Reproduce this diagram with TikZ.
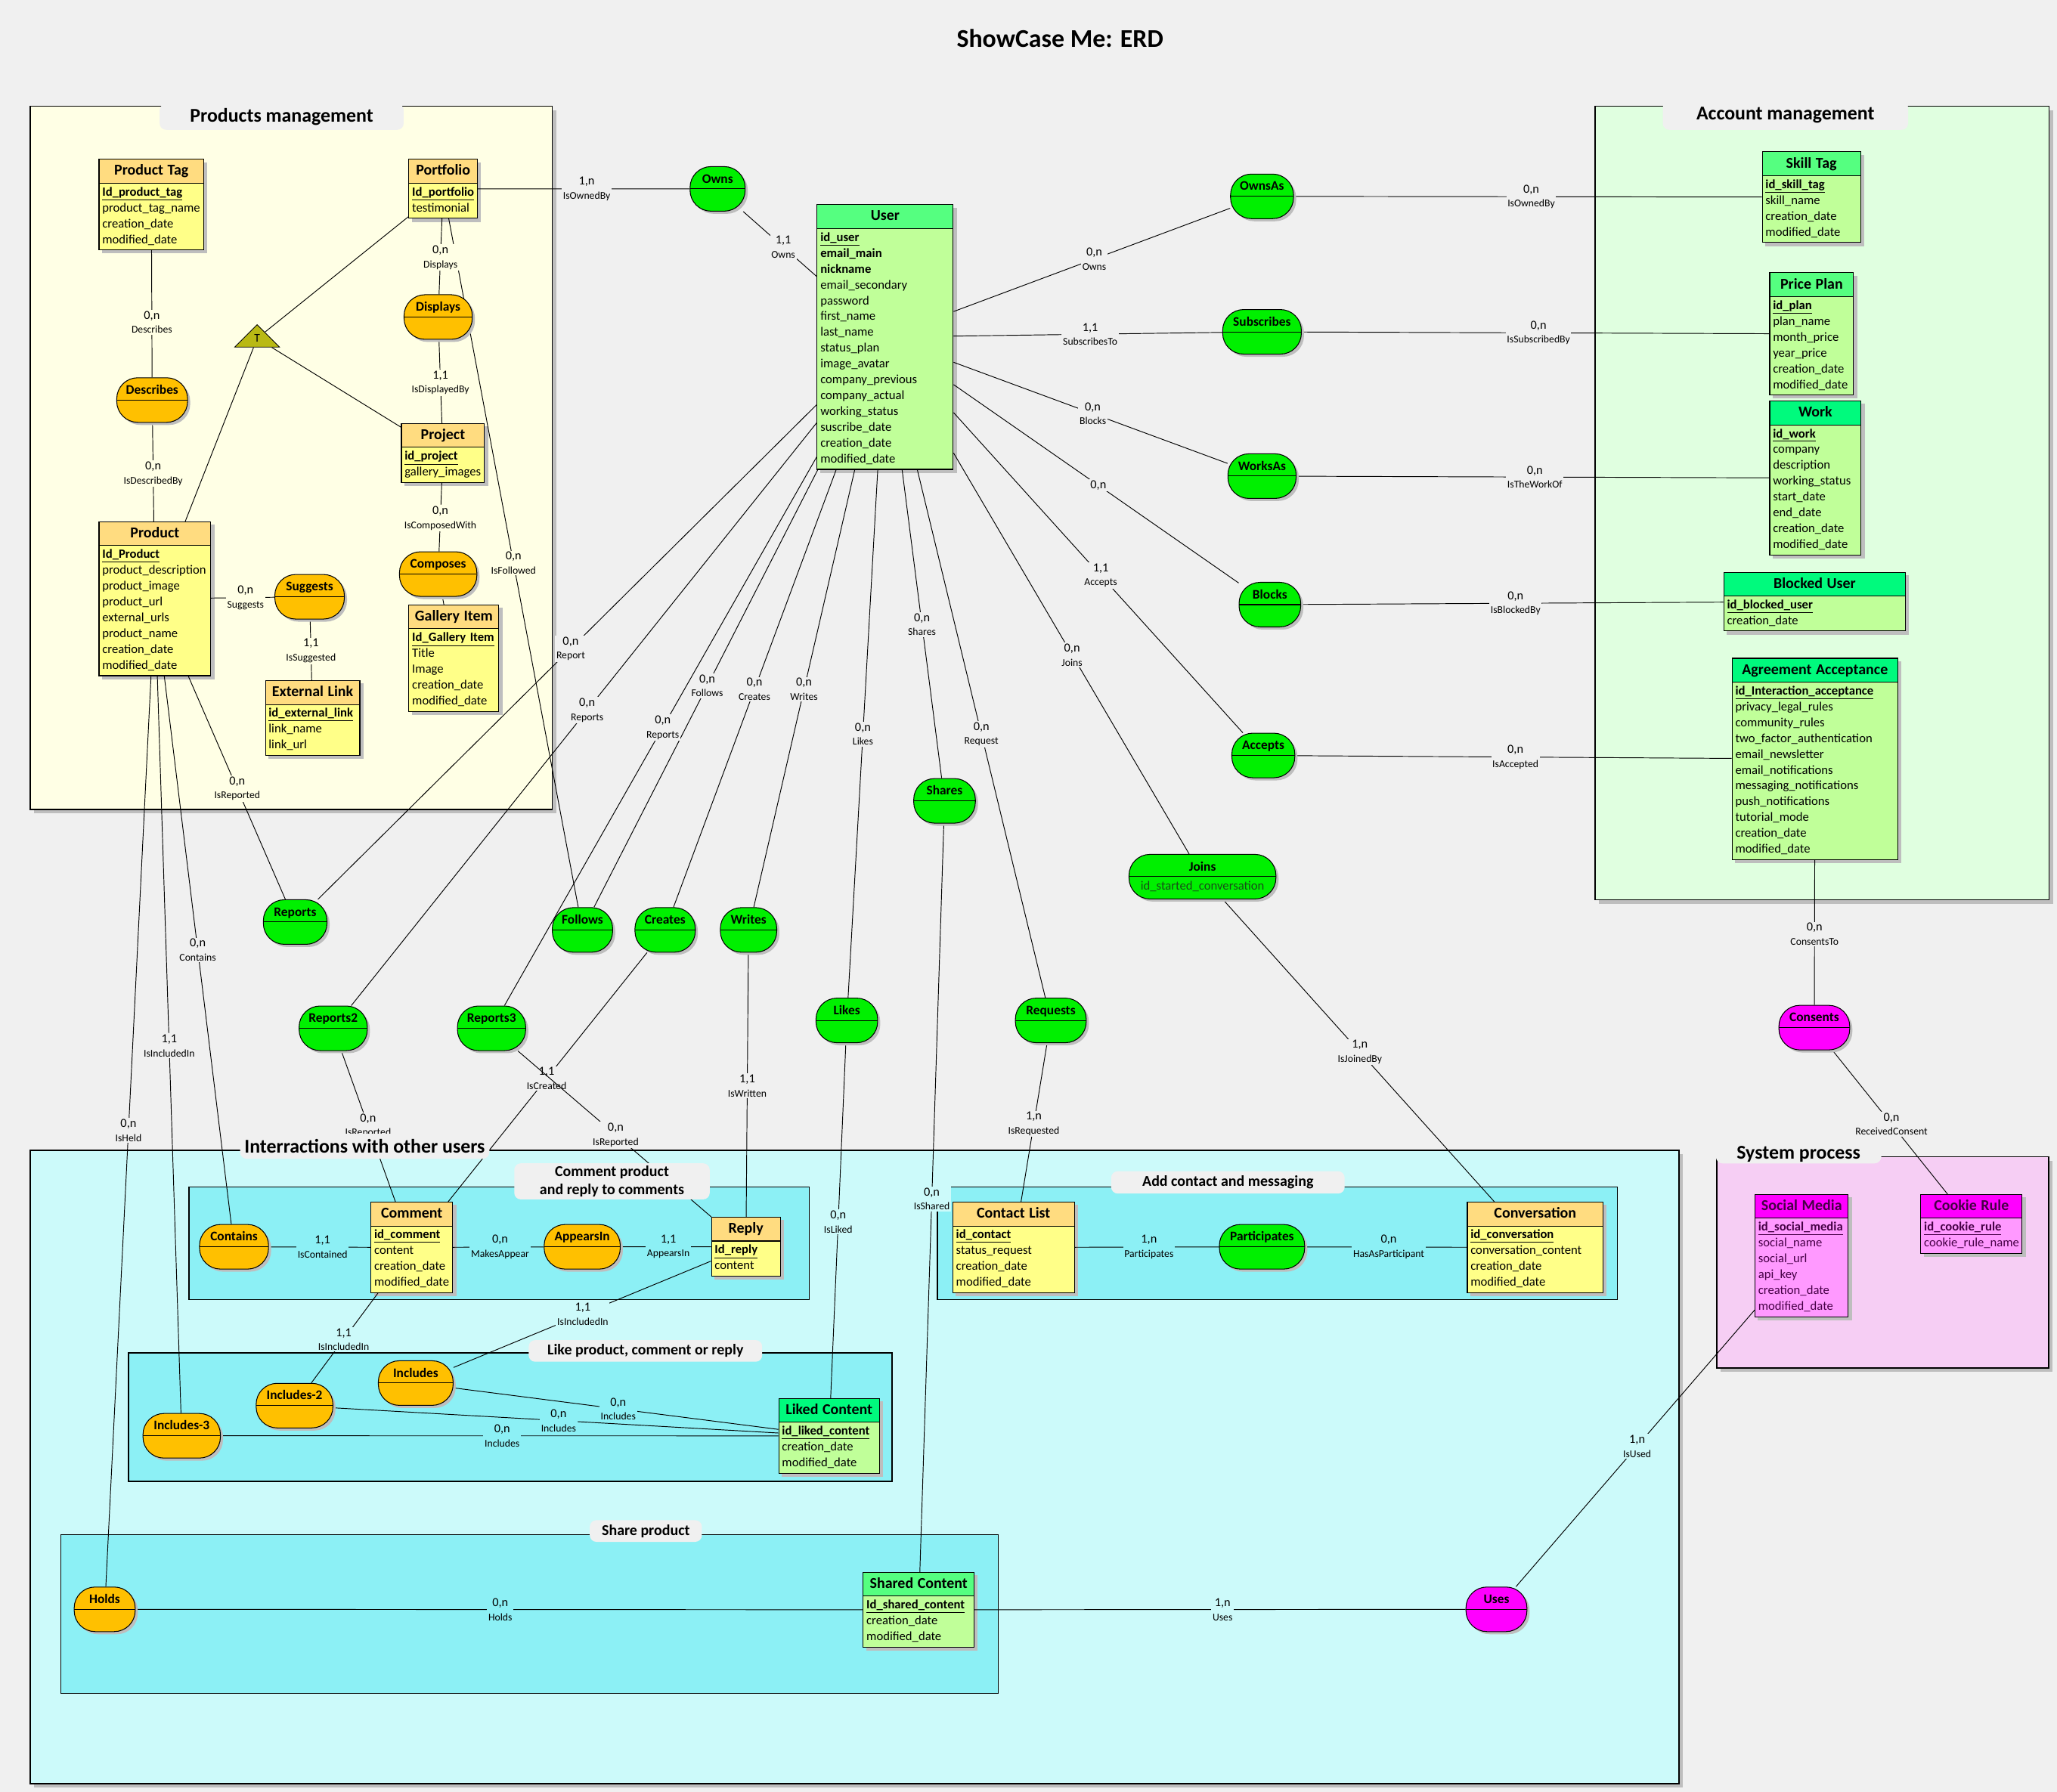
\documentclass[tikz,border=0pt]{standalone}
\usepackage{fontspec}
\setmainfont{Carlito}
\usetikzlibrary{shapes.multipart,shapes.geometric,shadows,calc}

\definecolor{bgc}{RGB}{240,240,240}
\definecolor{prodc}{RGB}{255,255,229}
\definecolor{accc}{RGB}{224,255,224}
\definecolor{intc}{RGB}{204,250,250}
\definecolor{subc}{RGB}{140,240,245}
\definecolor{sysc}{RGB}{246,206,244}
\definecolor{tabc}{RGB}{240,240,240}
\definecolor{yhd}{RGB}{255,220,128}
\definecolor{ybd}{RGB}{255,255,136}
\definecolor{ghd}{RGB}{85,255,128}
\definecolor{dhd}{RGB}{0,250,125}
\definecolor{gbd}{RGB}{192,255,153}
\definecolor{mhd}{RGB}{255,0,255}
\definecolor{mbd}{RGB}{255,153,255}
\definecolor{mtxt}{RGB}{70,0,70}
\definecolor{grelc}{RGB}{0,240,0}
\definecolor{orelc}{RGB}{255,192,0}
\definecolor{mrelc}{RGB}{255,0,255}
\definecolor{olc}{RGB}{185,185,20}
\definecolor{shc}{RGB}{190,190,190}
\definecolor{joint}{RGB}{25,75,25}

\pgfdeclarelayer{panels}
\pgfdeclarelayer{links}
\pgfsetlayers{panels,links,main}

\newcommand{\hfnt}{\fontsize{11.5}{15.5}\selectfont\bfseries}
\newcommand{\afnt}{\fontsize{9.6}{12.07}\selectfont\lineskiplimit=-6pt\relax}
\newcommand{\rfnt}{\fontsize{10}{12}\selectfont\bfseries}
\newcommand{\pk}[1]{\underline{\textbf{#1}}}
\newcommand{\ent}[3][0pt]{{\centering\hfnt\strut#2\strut\par}\nodepart{two}\afnt\strut#3\strut\par\vskip#1\relax}
\newcommand{\cd}[2]{{\fontsize{9.4}{10}\selectfont#1}\\#2}

\tikzset{
  shad/.style={drop shadow={shadow xshift=#1, shadow yshift=-#1, fill=shc, opacity=1}},
  entity/.style={rectangle split, rectangle split parts=2, draw, line width=.6pt,
    inner xsep=2.5pt, inner ysep=1pt, text width=#1, align=left, anchor=north west,
    font=\afnt},
  yent/.style={entity=#1, rectangle split part fill={yhd,ybd}},
  gent/.style={entity=#1, rectangle split part fill={ghd,gbd}},
  dent/.style={entity=#1, rectangle split part fill={dhd,gbd}},
  ment/.style={entity=#1, rectangle split part fill={mhd,mbd}, text=mtxt},
  rel/.style={rectangle, rounded corners=16pt, draw, line width=.6pt, minimum height=34pt,
    minimum width=#1, inner sep=0pt, font=\rfnt, text height=8pt, text depth=17pt,
    path picture={\draw[line width=.6pt] (path picture bounding box.west) -- (path picture bounding box.east);},
    shad=2pt},
  grel/.style={rel=#1, fill=grelc},
  orel/.style={rel=#1, fill=orelc},
  mrel/.style={rel=#1, fill=mrelc},
  tri/.style={isosceles triangle, shape border rotate=90, isosceles triangle stretches,
    minimum width=34pt, minimum height=17pt, inner sep=0pt, draw, line width=.5pt,
    fill=olc, font=\fontsize{9}{10}\selectfont},
  conn/.style={draw, line width=.55pt},
  card/.style={inner sep=1pt, align=center, font=\fontsize{7.9}{10.7}\selectfont},
  panel/.style={draw, line width=1pt, shad=3pt},
  subpanel/.style={draw, fill=subc, line width=.8pt},
  tab/.style={fill=tabc, rounded corners=5pt, inner sep=0pt, font=\fontsize{14.9}{17}\selectfont\bfseries},
  subtab/.style={tab, align=center, font=\fontsize{11.5}{13.8}\selectfont\bfseries}
}

\begin{document}
\begin{tikzpicture}[x=1pt, y=-1pt]
\useasboundingbox (0,0) rectangle (1568,1366);

% areas
\begin{pgfonlayer}{panels}
  \fill[bgc] (0,0) rectangle (1568,1366);
  \filldraw[panel, fill=prodc] (23,81) rectangle (421,617);
  \filldraw[panel, fill=accc] (1216,81) rectangle (1562,686);
  \filldraw[panel, fill=intc] (23,877) rectangle (1280,1360);
  \filldraw[panel, fill=sysc] (1308.5,882) rectangle (1561.7,1043);
  \filldraw[subpanel] (144,905) rectangle (617,991);
  \filldraw[subpanel] (714.6,905) rectangle (1233,991);
  \filldraw[subpanel] (98,1031.5) rectangle (680,1129.5);
  \filldraw[subpanel] (46.5,1170) rectangle (761,1291);
\end{pgfonlayer}

\node[font=\fontsize{19.5}{23}\selectfont\bfseries] (title) at (808,29) {ShowCase Me: ERD};

% area titles
\node[tab, minimum width=186pt, minimum height=20pt] (prodtab) at (214.7,89) {Products management};
\node[tab, minimum width=187pt, minimum height=22pt] (acctab) at (1361,88) {Account management};
\node[tab, minimum width=190pt, minimum height=19pt] (inttab) at (278,874) {Interractions with other users};
\node[tab, minimum width=126pt, minimum height=14pt] (systab) at (1371,880) {System process};
\node[subtab, minimum width=149pt, minimum height=27.5pt] (comtab) at (466.5,900.7) {Comment product\\and reply to comments};
\node[subtab, minimum width=178pt, minimum height=16.5pt] (liketab) at (492,1030) {Like product, comment or reply};
\node[subtab, minimum width=178pt, minimum height=17pt] (contab) at (936,901.5) {Add contact and messaging};
\node[subtab, minimum width=85.4pt, minimum height=16.5pt] (sharetab) at (492.3,1167.3) {Share product};

% entities
\node[yent=74.8pt] (ptag) at (75.2,121.2) {\ent[17pt]{Product Tag}{\pk{Id\_product\_tag}\\product\_tag\_name\\creation\_date\\modified\_date}};
\node[yent=47.2pt] (portfolio) at (311.4,121.2) {\ent{Portfolio}{\pk{Id\_portfolio}\\testimonial}};
\node[yent=58.3pt] (project) at (305.7,322.7) {\ent{Project}{\pk{id\_project}\\gallery\_images}};
\node[yent=80.1pt] (product) at (75.2,397.6) {\ent{Product}{\pk{Id\_Product}\\product\_description\\product\_image\\product\_url\\external\_urls\\product\_name\\creation\_date\\modified\_date}};
\node[yent=63.6pt] (gallery) at (311.4,461) {\ent{Gallery Item}{\pk{Id\_Gallery~Item}\\Title\\Image\\creation\_date\\modified\_date}};
\node[yent=67pt] (extlink) at (202,518.7) {\ent{External Link}{\pk{id\_external\_link}\\link\_name\\link\_url}};
\node[gent=98.7pt] (user) at (622.6,155.8) {\ent{User}{\pk{id\_user}\\\textbf{email\_main}\\\textbf{nickname}\\email\_secondary\\password\\first\_name\\last\_name\\status\_plan\\image\_avatar\\company\_previous\\company\_actual\\working\_status\\suscribe\_date\\creation\_date\\modified\_date}};
\node[gent=69.9pt] (skilltag) at (1343,115.5) {\ent{Skill Tag}{\pk{id\_skill\_tag}\\skill\_name\\creation\_date\\modified\_date}};
\node[gent=58.9pt] (priceplan) at (1348.7,207.7) {\ent{Price Plan}{\pk{id\_plan}\\plan\_name\\month\_price\\year\_price\\creation\_date\\modified\_date}};
\node[dent=64.6pt] (work) at (1348.7,305.5) {\ent{Work}{\pk{id\_work}\\company\\description\\working\_status\\start\_date\\end\_date\\creation\_date\\modified\_date}};
\node[dent=133.5pt] (blocked) at (1313.7,436) {\ent[8pt]{Blocked User}{\pk{id\_blocked\_user}\\creation\_date}};
\node[dent=121.4pt] (agreement) at (1320,501.6) {\ent{Agreement Acceptance}{\pk{id\_Interaction\_acceptance}\\privacy\_legal\_rules\\community\_rules\\two\_factor\_authentication\\email\_newsletter\\email\_notifications\\messaging\_notifications\\push\_notifications\\tutorial\_mode\\creation\_date\\modified\_date}};
\node[yent=57.2pt] (comment) at (282.5,916.3) {\ent{Comment}{\pk{id\_comment}\\content\\creation\_date\\modified\_date}};
\node[yent=47.6pt] (reply) at (542,927.8) {\ent{Reply}{\pk{Id\_reply}\\content}};
\node[yent=87.6pt] (contact) at (726,916.3) {\ent{Contact List}{\pk{id\_contact}\\status\_request\\creation\_date\\modified\_date}};
\node[yent=98.5pt] (conversation) at (1118.2,916.3) {\ent{Conversation}{\pk{id\_conversation}\\conversation\_content\\creation\_date\\modified\_date}};
\node[dent=71.7pt] (liked) at (593.3,1066) {\ent{Liked Content}{\pk{id\_liked\_content}\\creation\_date\\modified\_date}};
\node[gent=79.5pt] (shared) at (657.7,1198.6) {\ent{Shared Content}{\pk{Id\_shared\_content}\\creation\_date\\modified\_date}};
\node[ment=66.1pt] (social) at (1337.5,910.5) {\ent{Social Media}{\pk{id\_social\_media}\\social\_name\\social\_url\\api\_key\\creation\_date\\modified\_date}};
\node[ment=72.1pt] (cookie) at (1463.9,910.5) {\ent{Cookie Rule}{\pk{id\_cookie\_rule}\\cookie\_rule\_name}};

% entity shadows
\begin{pgfonlayer}{panels}
\foreach \e in {ptag, portfolio, project, product, gallery, extlink, user, skilltag, priceplan,
    work, blocked, agreement, comment, reply, contact, conversation, liked, shared, social, cookie}
  \fill[shc] ($(\e.north west)+(2.5,2.5)$) rectangle ($(\e.south east)+(2.5,2.5)$);
\end{pgfonlayer}

% relationships
\foreach \nm/\x/\y/\w/\lab in {owns/547/144/42/Owns, ownsas/962/149.7/48/OwnsAs,
    subscribes/962/253/60/Subscribes, worksas/962/363/52/WorksAs, blocks/968/461/47/Blocks,
    accepts/963/576/48/Accepts, shares/720/610.6/47/Shares, reports/225/703/48.5/Reports,
    follows/444/709/46/Follows, creates/507/709/46/Creates, writes/570.6/709/43/Writes,
    reports2/254/784/52/Reports2, reports3/374.7/784/52/Reports3, likes/645.5/778/47/Likes,
    requests/801/778/54/Requests, participates/962/950.6/65/Participates}
  \node[grel=\w] (\nm) at (\x,\y) {\lab};
\foreach \nm/\x/\y/\w/\lab in {describes/116/305/54/Describes, displays/334/241.7/52/Displays,
    suggests/236/455/53/Suggests, composes/334/437.7/59/Composes, contains/178.4/950.6/52.6/Contains,
    appearsin/443.8/950.6/58/AppearsIn, includes/316.9/1054.5/57/Includes,
    includes2/224.5/1071.7/58.5/Includes-2, includes3/138.5/1094.7/59/Includes-3, holds/79.8/1227/46.5/Holds}
  \node[orel=\w] (\nm) at (\x,\y) {\lab};
\foreach \nm/\x/\y/\w/\lab in {consents/1383/783.5/54/Consents, uses/1140.7/1227/46.5/Uses}
  \node[mrel=\w] (\nm) at (\x,\y) {\lab};
\node[grel=112, align=center, text height={}, text depth={}] (joins) at (916.6,668.4)
  {Joins\\[2.5pt]{\mdseries\afnt\color{joint}id\_started\_conversation}};

\node[tri] (tri) at (196,258) {T};

% links
\begin{pgfonlayer}{links}
\foreach \source/\dest/\tpos/\bgf/\card/\role in {
    portfolio/owns/0.523/bgc/{1,n}/IsOwnedBy, owns/user/0.392/bgc/{1,1}/Owns,
    user/ownsas/0.555/bgc/{0,n}/Owns, ownsas/skilltag/0.49/bgc/{0,n}/IsOwnedBy,
    user/subscribes/0.544/bgc/{1,1}/SubscribesTo, subscribes/priceplan/0.503/bgc/{0,n}/IsSubscribedBy,
    user/worksas/0.551/bgc/{0,n}/Blocks, worksas/work/0.493/bgc/{0,n}/IsTheWorkOf,
    blocks/blocked/0.451/bgc/{0,n}/IsBlockedBy,
    user/accepts/0.57/bgc/{1,1}/Accepts, accepts/agreement/0.457/bgc/{0,n}/IsAccepted,
    user/joins/0.589/bgc/{0,n}/Joins, joins/conversation/0.473/bgc/{1,n}/IsJoinedBy,
    user/shares/0.62/bgc/{0,n}/Shares, shares/shared/0.492/intc/{0,n}/IsShared,
    user/requests/0.581/bgc/{0,n}/Request, requests/contact/0.456/bgc/{1,n}/IsRequested,
    user/likes/0.581/bgc/{0,n}/Likes, likes/liked/0.485/intc/{0,n}/IsLiked,
    user/writes/0.594/bgc/{0,n}/Writes, writes/reply/0.492/bgc/{1,1}/IsWritten,
    user/creates/0.594/bgc/{0,n}/Creates, creates/comment/0.468/bgc/{1,1}/IsCreated,
    user/follows/0.588/bgc/{0,n}/Follows, portfolio/follows/0.505/prodc/{0,n}/IsFollowed,
    user/reports3/0.565/bgc/{0,n}/Reports, reports3/reply/0.488/bgc/{0,n}/IsReported,
    user/reports2/0.54/bgc/{0,n}/Reports, reports2/comment/0.444/bgc/{0,n}/IsReported,
    user/reports/0.533/bgc/{0,n}/Report, product/reports/0.587/prodc/{0,n}/IsReported,
    ptag/describes/0.602/prodc/{0,n}/Describes, describes/product/0.37/prodc/{0,n}/IsDescribedBy,
    portfolio/displays/0.536/prodc/{0,n}/Displays, displays/project/0.484/prodc/{1,1}/IsDisplayedBy,
    project/composes/0.539/prodc/{0,n}/IsComposedWith,
    product/suggests/0.586/prodc/{0,n}/Suggests, suggests/extlink/0.446/prodc/{1,1}/IsSuggested,
    product/contains/0.542/bgc/{0,n}/Contains, product/includes3/0.534/bgc/{1,1}/IsIncludedIn,
    product/holds/0.526/bgc/{0,n}/IsHeld,
    contains/comment/0.498/subc/{1,1}/IsContained, comment/appearsin/0.518/subc/{0,n}/MakesAppear,
    appearsin/reply/0.526/subc/{1,1}/AppearsIn,
    comment/includes2/0.581/intc/{1,1}/IsIncludedIn, reply/includes/0.494/intc/{1,1}/IsIncludedIn,
    includes/liked/0.49/subc/{0,n}/Includes, includes2/liked/0.494/subc/{0,n}/Includes,
    includes3/liked/0.495/subc/{0,n}/Includes,
    contact/participates/0.545/subc/{1,n}/Participates,
    participates/conversation/0.464/subc/{0,n}/HasAsParticipant,
    holds/shared/0.486/subc/{0,n}/Holds, shared/uses/0.526/intc/{1,n}/Uses,
    uses/social/0.461/intc/{1,n}/IsUsed,
    agreement/consents/0.652/bgc/{0,n}/ConsentsTo, consents/cookie/0.491/bgc/{0,n}/ReceivedConsent}
  \draw[conn] (\source) -- (\dest) node[card, fill=\bgf] at ($(\source)!\tpos!(\dest)$) {\cd{\card}{\role}};
\draw[conn] (user) -- (blocks) node[card, fill=bgc] at ($(user)!0.554!(blocks)$) {\fontsize{9.4}{10}\selectfont 0,n};
\draw[conn] (composes) -- (gallery) node[card, fill=prodc] at ($(composes)!0.225!(gallery)$) {\fontsize{9.4}{10}\selectfont 1,1};
\foreach \dest in {portfolio, project, product}
  \draw[conn] (tri) -- (\dest);
\end{pgfonlayer}

\end{tikzpicture}
\end{document}
